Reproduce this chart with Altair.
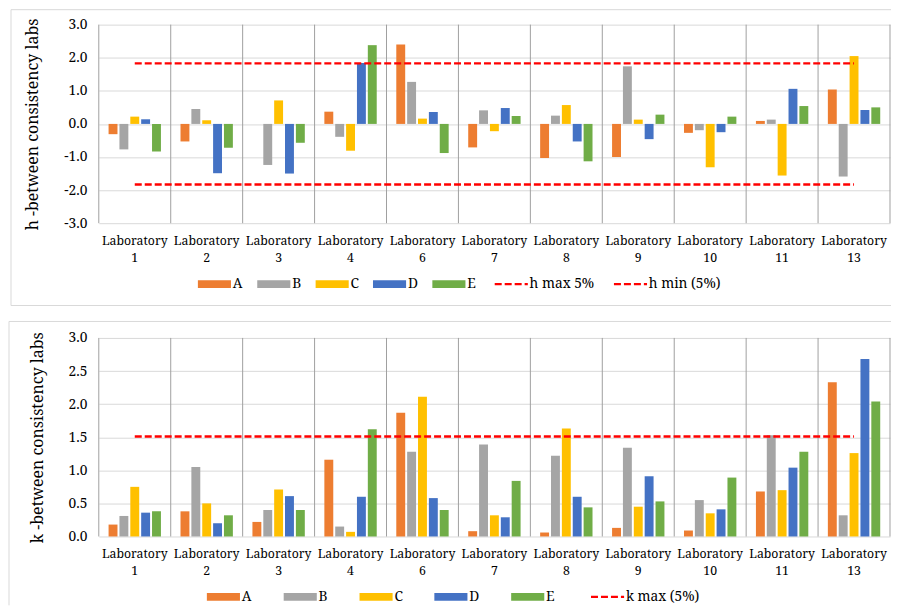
import altair as alt
import pandas as pd

labs = ["Laboratory 1", "Laboratory 2", "Laboratory 3", "Laboratory 4", "Laboratory 6",
        "Laboratory 7", "Laboratory 8", "Laboratory 9", "Laboratory 10", "Laboratory 11",
        "Laboratory 13"]
series = ["A", "B", "C", "D", "E"]
colors = ["#ED7D31", "#A5A5A5", "#FFC000", "#4472C4", "#70AD47"]

# h - between consistency
h_A = [-0.31, -0.53, 0.0, 0.37, 2.40, -0.71, -1.03, -1.00, -0.27, 0.09, 1.04]
h_B = [-0.77, 0.45, -1.24, -0.39, 1.27, 0.41, 0.25, 1.74, -0.19, 0.13, -1.59]
h_C = [0.22, 0.11, 0.71, -0.81, 0.16, -0.22, 0.57, 0.13, -1.31, -1.56, 2.05]
h_D = [0.14, -1.49, -1.50, 1.84, 0.36, 0.48, -0.53, -0.46, -0.25, 1.06, 0.42]
h_E = [-0.83, -0.72, -0.57, 2.38, -0.88, 0.24, -1.13, 0.28, 0.22, 0.54, 0.50]
h_line_names = ["h max 5%", "h min (5%)"]
h_line_levels = [1.83, -1.83]

# k - between consistency
k_A = [0.18, 0.38, 0.22, 1.16, 1.87, 0.08, 0.06, 0.13, 0.09, 0.68, 2.33]
k_B = [0.31, 1.05, 0.40, 0.15, 1.28, 1.39, 1.22, 1.34, 0.55, 1.53, 0.32]
k_C = [0.75, 0.50, 0.71, 0.07, 2.11, 0.32, 1.63, 0.45, 0.35, 0.70, 1.26]
k_D = [0.36, 0.20, 0.61, 0.60, 0.58, 0.29, 0.60, 0.91, 0.41, 1.04, 2.68]
k_E = [0.38, 0.32, 0.40, 1.62, 0.40, 0.84, 0.44, 0.53, 0.89, 1.28, 2.04]
k_line_names = ["k max (5%)"]
k_line_levels = [1.51]

h_ticks = [-3, -2, -1, 0, 1, 2, 3]
k_ticks = [0, 0.5, 1, 1.5, 2, 2.5, 3]

W = 793
H = 199
FONT = "Noto Serif, DejaVu Serif, serif"
LSIZE = 13.8
XSIZE = 12.3
TSIZE = 16
RED = "#FF0000"
GRID = "#D9D9D9"
SEP = "#A0A0A0"


def bars_df(vals_by_series):
    rows = []
    for s, vals in zip(series, vals_by_series):
        for lab, v in zip(labs, vals):
            rows.append({"lab": lab, "series": s, "value": v})
    return pd.DataFrame(rows)


def lines_df(names, levels):
    rows = []
    for n, lvl in zip(names, levels):
        for lab in labs:
            rows.append({"lab": lab, "series": n, "value": lvl})
    return pd.DataFrame(rows)


IS_BAR = "indexof(['A','B','C','D','E'], datum.value) >= 0"
FILL_EXPR = ("datum.value=='A' ? '#ED7D31' : datum.value=='B' ? '#A5A5A5' : "
             "datum.value=='C' ? '#FFC000' : datum.value=='D' ? '#4472C4' : "
             "datum.value=='E' ? '#70AD47' : 'transparent'")


def panel(vals_by_series, line_names, line_levels, ticks, ytitle, box, legend_xy, colpad):
    domain = series + line_names
    rng = colors + [RED] * len(line_names)
    color_scale = alt.Scale(domain=domain, range=rng)
    legend = alt.Legend(
        title=None, orient="none", legendX=legend_xy[0], legendY=legend_xy[1],
        direction="horizontal", columns=len(domain), columnPadding=colpad,
        labelOffset=11.5, labelFont=FONT, labelFontSize=LSIZE, labelColor="#000000",
        symbolSize=1100, padding=0, symbolLimit=0,
        symbolType=alt.ExprRef(expr=f"{IS_BAR} ? 'M-1,-0.24H1V0.24H-1Z' : 'stroke'"),
        symbolFillColor=alt.ExprRef(expr=FILL_EXPR),
        symbolStrokeColor=alt.ExprRef(expr=f"{IS_BAR} ? 'transparent' : '{RED}'"),
        symbolStrokeWidth=alt.ExprRef(expr=f"{IS_BAR} ? 0 : 2.4"),
        symbolDash=alt.ExprRef(expr=f"{IS_BAR} ? [1,0] : [7,3]"),
        symbolOpacity=1,
    )
    color = alt.Color("series:N", scale=color_scale, legend=legend, sort=domain)

    xscale = alt.Scale(domain=labs, paddingInner=0, paddingOuter=0)
    xaxis = alt.Axis(
        title=None, domain=False, ticks=False, grid=False, labelAngle=0,
        labelFont=FONT, labelFontSize=XSIZE,
        labelColor="#000000", labelPadding=11,
        labelLineHeight=17, labelBaseline="top",
        labelExpr="['Laboratory', split(datum.label, ' ')[1]]",
    )
    yscale = alt.Scale(domain=[ticks[0], ticks[-1]], nice=False, zero=False)
    yaxis = alt.Axis(
        title=ytitle, values=ticks, domain=False, ticks=False, grid=True,
        gridColor=GRID, gridWidth=1, labelFont=FONT,
        labelFontSize=LSIZE, labelColor="#000000", labelPadding=12,
        labelExpr="(datum.value < 0 ? '-' : '') + format(abs(datum.value), '.1f')",
        titleFont=FONT, titleFontSize=TSIZE,
        titleFontWeight="normal", titleColor="#000000", titlePadding=23,
    )

    bdf = bars_df(vals_by_series)
    ldf = lines_df(line_names, line_levels)

    bars = alt.Chart(bdf).mark_bar().encode(
        x=alt.X("lab:N", sort=labs, scale=xscale, axis=xaxis),
        xOffset=alt.XOffset("series:N", sort=series,
                            scale=alt.Scale(paddingInner=0.18, paddingOuter=0.9)),
        y=alt.Y("value:Q", scale=yscale, axis=yaxis),
        color=color,
    )
    lines = alt.Chart(ldf).mark_line(strokeDash=[7, 3], strokeWidth=2.4).encode(
        x=alt.X("lab:N", sort=labs, scale=xscale, axis=xaxis),
        y=alt.Y("value:Q", scale=yscale, axis=yaxis),
        color=color,
    )
    sep = alt.Chart(pd.DataFrame({"lab": labs})).mark_rule(color=SEP, strokeWidth=1).encode(
        x=alt.X("lab:N", sort=labs, scale=xscale, axis=xaxis, bandPosition=0),
        y=alt.value(0), y2=alt.value(H),
    )
    sep_end = alt.Chart(pd.DataFrame({"lab": [labs[-1]]})).mark_rule(color=SEP, strokeWidth=1).encode(
        x=alt.X("lab:N", sort=labs, scale=xscale, axis=xaxis, bandPosition=1),
        y=alt.value(0), y2=alt.value(H),
    )
    # panel border (chart-area frame)
    bx0, by0, bx1, by1, closed = box
    one = pd.DataFrame({"k": [0]})
    frame = [
        alt.Chart(one).mark_rule(color=GRID, strokeWidth=1).encode(
            x=alt.value(bx0), x2=alt.value(bx1), y=alt.value(by0)),
        alt.Chart(one).mark_rule(color=GRID, strokeWidth=1).encode(
            x=alt.value(bx0), y=alt.value(by0), y2=alt.value(by1)),
    ]
    if closed:
        frame.append(alt.Chart(one).mark_rule(color=GRID, strokeWidth=1).encode(
            x=alt.value(bx0), x2=alt.value(bx1), y=alt.value(by1)))
    return alt.layer(*frame, sep, sep_end, bars, lines).properties(width=W, height=H)


top = panel([h_A, h_B, h_C, h_D, h_E], h_line_names, h_line_levels, h_ticks,
            "h -between consistency labs", (-88, -15, 794, 281.5, True), (109, 253), 13.5)
bottom = panel([k_A, k_B, k_C, k_D, k_E], k_line_names, k_line_levels, k_ticks,
               "k -between consistency labs", (-90, -16.5, 794, 268, False), (118, 252.5), 31)

chart = alt.vconcat(top, bottom, spacing=15).resolve_scale(
    color="independent", x="independent", y="independent"
).properties(padding=0, background="white").configure_view(stroke=None)

chart.save("out.html", embed_options={"renderer": "svg", "actions": False})
